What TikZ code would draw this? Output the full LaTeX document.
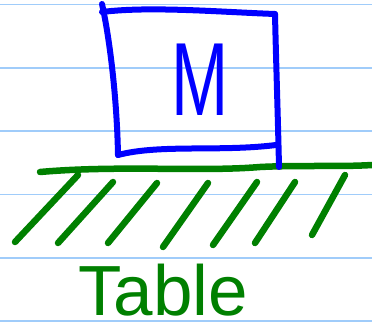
\documentclass[tikz,border=0pt]{standalone}
\usepackage{fontspec}
\setmainfont{Liberation Sans}
\definecolor{rule}{RGB}{160,204,250}
\definecolor{penblue}{RGB}{0,0,255}
\definecolor{pengreen}{RGB}{0,128,0}
\begin{document}
\begin{tikzpicture}[x=1pt,y=-1pt,
  ruled/.style={draw=rule,line width=1.8pt},
  bluepen/.style={draw=penblue,line width=6pt,line cap=round,line join=round},
  greenpen/.style={draw=pengreen,line width=6.5pt,line cap=round,line join=round},
  hatchline/.style={draw=pengreen,line width=6.5pt,line cap=round}]
\useasboundingbox (0,0) rectangle (372,331);
\fill[white] (0,0) rectangle (372,331);
% ruled paper lines
\foreach \y in {4.5,68,131,194.5,258,321}
  \draw[ruled] (0,\y) -- (372,\y);
% table top
\draw[greenpen] (40,172) .. controls (120,165) and (200,172) .. (260,167) .. controls (300,165) and (340,167) .. (372,165);
% hatches
\draw[hatchline] (78,175) -- (15,242);
\draw[hatchline] (113,182) -- (58,243);
\draw[hatchline] (157,183) -- (108,243);
\draw[hatchline] (208,183) -- (163,247);
\draw[hatchline] (257,182) -- (213,245);
\draw[hatchline] (295,182) -- (255,243);
\draw[hatchline] (345,175) -- (312,235);
% block
\draw[bluepen] (102,12) .. controls (150,6) and (220,12) .. (275,14);
\draw[bluepen] (102,4) .. controls (110,40) and (117,100) .. (118,155);
\draw[bluepen] (118,155) .. controls (160,144) and (220,152) .. (276,145);
\draw[bluepen] (275,14) .. controls (276,60) and (278,120) .. (279,167);
\node[text=penblue,font=\fontsize{104}{104}\selectfont,xscale=0.66,inner sep=0pt,text depth=0pt,anchor=base] (mass) at (200,116) {M};
\node[text=pengreen,font=\fontsize{71}{71}\selectfont,inner sep=0pt,text depth=0pt,anchor=base] (table) at (163,315) {Table};
\end{tikzpicture}
\end{document}
